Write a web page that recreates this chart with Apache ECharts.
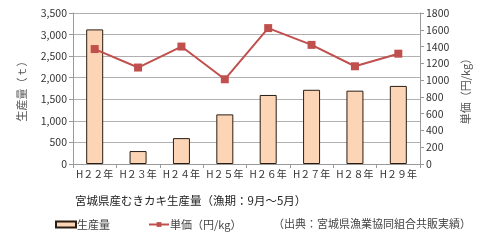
<!DOCTYPE html>
<html>
<head>
<meta charset="utf-8">
<script src="https://cdn.jsdelivr.net/npm/echarts@6/dist/echarts.min.js"></script>
<style>
  html, body { margin: 0; padding: 0; background: #fff; }
  #chart { width: 500px; height: 246px; }
</style>
</head>
<body>
<div id="chart"></div>
<script>
const years = ['H２２年', 'H２３年', 'H２４年', 'H２５年', 'H２６年', 'H２７年', 'H２８年', 'H２９年'];
const production = [3120, 300, 600, 1150, 1600, 1720, 1700, 1810];
const unitPrice = [1370, 1150, 1400, 1010, 1620, 1420, 1165, 1315];

const font = '"Noto Sans CJK JP", sans-serif';
const chart = echarts.init(document.getElementById('chart'));

const option = {
  animation: false,
  textStyle: { fontFamily: font },
  title: [
    {
      text: '宮城県産むきカキ生産量（漁期：9月～5月）',
      left: 70,
      top: 190,
      textStyle: { fontSize: 11.5, fontWeight: 'normal', color: '#222', fontFamily: font }
    },
    {
      text: '（出典：宮城県漁業協同組合共販実績）',
      right: 24,
      top: 213,
      textStyle: { fontSize: 11, fontWeight: 'normal', color: '#444', fontFamily: font }
    }
  ],
  legend: {
    left: 50,
    top: 214,
    itemGap: 38,
    itemWidth: 20,
    itemHeight: 6,
    textStyle: { fontSize: 11, color: '#444', fontFamily: font, padding: [0, 0, 0, -4] },
    data: [
      { name: '生産量', icon: 'rect' },
      { name: '単価（円/kg）' }
    ]
  },
  grid: { left: 73, right: 80, top: 13, height: 151 },
  xAxis: {
    type: 'category',
    data: years,
    axisLine: { lineStyle: { color: '#999' } },
    axisTick: { show: true, lineStyle: { color: '#999' }, length: 4 },
    axisLabel: { interval: 0, fontSize: 10, color: '#333', margin: 5 }
  },
  yAxis: [
    {
      type: 'value',
      min: 0,
      max: 3500,
      interval: 500,
      name: '生産量（ｔ）',
      nameLocation: 'middle',
      nameRotate: 90,
      nameGap: 46,
      nameTextStyle: { fontSize: 11, color: '#555' },
      axisLine: { show: true, lineStyle: { color: '#999' } },
      axisTick: { show: true, length: 4, lineStyle: { color: '#999' } },
      axisLabel: {
        fontSize: 10.5,
        color: '#333',
        margin: 6,
        formatter: v => v.toLocaleString('en-US')
      },
      splitLine: { lineStyle: { color: '#b0b0b0' } }
    },
    {
      type: 'value',
      min: 0,
      max: 1800,
      interval: 200,
      name: '単価（円/kg）',
      nameLocation: 'middle',
      nameRotate: 90,
      nameGap: 38,
      nameTextStyle: { fontSize: 11, color: '#555' },
      axisLine: { show: true, lineStyle: { color: '#999' } },
      axisTick: { show: true, length: 4, lineStyle: { color: '#999' } },
      axisLabel: { fontSize: 10.5, color: '#333', margin: 6, formatter: v => String(v) },
      splitLine: { show: false }
    }
  ],
  series: [
    {
      name: '生産量',
      type: 'bar',
      data: production,
      barWidth: 17,
      itemStyle: { color: '#FBD5B5', borderColor: '#2b1d12', borderWidth: 1 }
    },
    {
      name: '単価（円/kg）',
      type: 'line',
      yAxisIndex: 1,
      data: unitPrice,
      symbol: 'rect',
      symbolSize: 8,
      lineStyle: { color: '#C0504D', width: 2 },
      itemStyle: { color: '#C0504D' }
    }
  ]
};

chart.setOption(option);
</script>
</body>
</html>
